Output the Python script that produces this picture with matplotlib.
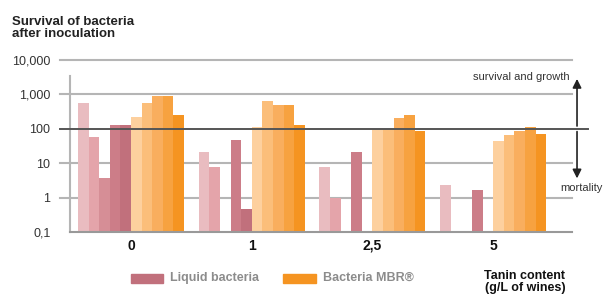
import numpy as np
import matplotlib
matplotlib.use('Agg')
import matplotlib.pyplot as plt

plt.rcParams['font.family'] = ['Liberation Sans', 'DejaVu Sans']

groups = ['0', '1', '2,5', '5']
# 5 liquid bacteria series then 5 MBR series, per tannin level (nan = no bar)
liquid = [
    [580, 58, 3.8, 130, 130],
    [20.5, 8.0, np.nan, 48, 0.47],
    [8.0, 1.0, np.nan, 20.5, np.nan],
    [2.35, np.nan, np.nan, 1.67, np.nan],
]
mbr = [
    [224, 580, 870, 870, 255],
    [114, 660, 500, 500, 130],
    [100, 100, 210, 255, 87],
    [45, 67, 87, 114, 72],
]
yticks = [0.1, 1, 10, 100, 1000, 10000]
ylabels = ['0,1', '1', '10', '100', '1,000', '10,000']

liquid_colors = ['#e9bcc0', '#e4a4aa', '#d68e96', '#cc7d88', '#c1707c']
mbr_colors = ['#fdd09e', '#fbbe7a', '#f9ae5e', '#f7a240', '#f59421']

fig = plt.figure(figsize=(6.06, 2.96), dpi=100)
ax = fig.add_axes([70/606, 1-232/296, 502/606, 172/296])
ax.set_yscale('log')
ax.set_ylim(0.1, 10000)
ax.set_xlim(-1.25, 46.1)

step = 11.39
for gi in range(len(groups)):
    vals = liquid[gi] + mbr[gi]
    cols = liquid_colors + mbr_colors
    for j, (v, c) in enumerate(zip(vals, cols)):
        if np.isnan(v):
            continue
        ax.bar(gi * step + j, v, width=1.0, color=c, zorder=3)

for s in ax.spines.values():
    s.set_visible(False)

for y in yticks[1:]:
    if y == 100:
        continue
    ax.axhline(y, xmin=-0.02, xmax=1.0, color='#b5b5b5', lw=1.5, zorder=1, clip_on=False)
ax.axhline(100, xmin=-0.02, xmax=1.032, color='#555555', lw=1.4, zorder=4, clip_on=False)
ax.axhline(0.1, xmin=0, xmax=1.0, color='#999999', lw=1.5, zorder=4, clip_on=False)
ax.plot([-1.25, -1.25], [0.1, 3400], color='#b5b5b5', lw=1.5, zorder=2, clip_on=False)

ax.set_yticks(yticks)
ax.set_yticklabels(ylabels, fontsize=9, color='#333333')
ax.minorticks_off()
ax.tick_params(axis='y', length=0, pad=14)
ax.set_xticks([gi * step + 4.5 for gi in range(len(groups))])
ax.set_xticklabels(groups, fontsize=10, fontweight='bold', color='#111111')
ax.tick_params(axis='x', length=0, pad=5)

# arrow on the right
ax.annotate('', xy=(1.01, 3400), xytext=(1.01, 100), xycoords=('axes fraction', 'data'),
            arrowprops=dict(arrowstyle='-|>', color='#222222', lw=1.2, mutation_scale=13))
ax.annotate('', xy=(1.01, 3.0), xytext=(1.01, 100), xycoords=('axes fraction', 'data'),
            arrowprops=dict(arrowstyle='-|>', color='#222222', lw=1.2, mutation_scale=13))
fig.text(570/606, 1-77/296, 'survival and growth', ha='right', va='center', fontsize=8, color='#333333')
fig.text(603/606, 1-188/296, 'mortality', ha='right', va='center', fontsize=8, color='#333333')

fig.text(12/606, 1-28/296, 'Survival of bacteria\nafter inoculation', ha='left', va='center',
         fontsize=9.5, fontweight='bold', color='#222222', linespacing=1.1)

# legend
fig.patches.append(plt.Rectangle((131/606, 1-283/296), 32/606, 9/296, transform=fig.transFigure,
                                 color=liquid_colors[4]))
fig.text(170/606, 1-278/296, 'Liquid bacteria', ha='left', va='center', fontsize=9,
         fontweight='bold', color='#8c8c8c')
fig.patches.append(plt.Rectangle((283/606, 1-283/296), 33/606, 9/296, transform=fig.transFigure,
                                 color=mbr_colors[4]))
fig.text(323/606, 1-278/296, 'Bacteria MBR®', ha='left', va='center', fontsize=9,
         fontweight='bold', color='#8c8c8c')
fig.text(525/606, 1-282/296, 'Tanin content\n(g/L of wines)', ha='center', va='center', fontsize=9,
         fontweight='bold', color='#111111', linespacing=0.95)

fig.savefig('out.png', dpi=100)
